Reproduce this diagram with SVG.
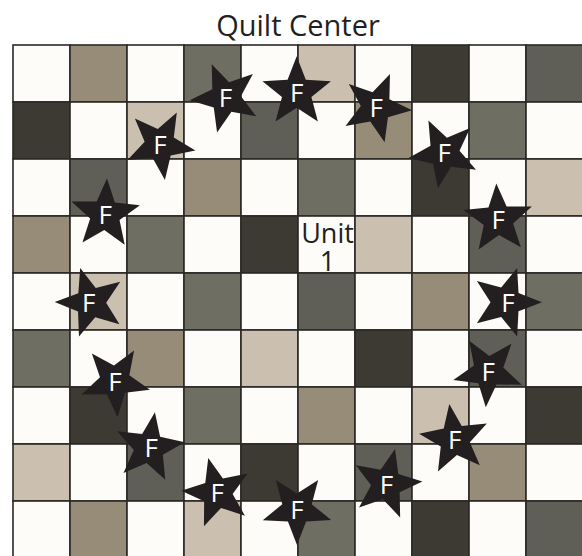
<svg xmlns="http://www.w3.org/2000/svg" xmlns:xlink="http://www.w3.org/1999/xlink" width="582" height="556" viewBox="0 0 582 556">
<defs>
<style>
.c{stroke:#2b2926;stroke-width:1.6}
.W{fill:#fdfcf8}.T{fill:#cbbfb0}.K{fill:#978c78}.G{fill:#6f6e62}.D{fill:#5f5e57}.B{fill:#3d3a33}
.star{fill:#231f20}
.f{font-family:"Open Sans","Liberation Sans",sans-serif;font-size:26px;fill:#ffffff;text-anchor:middle}
.lbl{font-family:"Open Sans","Liberation Sans",sans-serif;fill:#231f20;text-anchor:middle}
</style>
<path id="s" d="M0,-36 L9.1,-12.5 L34.24,-11.12 L14.7,4.8 L21.16,29.12 L0,15.5 L-21.16,29.12 L-14.7,4.8 L-34.24,-11.12 L-9.1,-12.5 Z"/>
</defs>
<rect width="582" height="556" fill="#ffffff"/>
<text class="lbl" x="298" y="36" font-size="29">Quilt Center</text>
<g id="grid">
<g transform="translate(13,45)">
<rect class="c W" x="0" y="0" width="57" height="57"/><rect class="c K" x="57" y="0" width="57" height="57"/><rect class="c W" x="114" y="0" width="57" height="57"/><rect class="c G" x="171" y="0" width="57" height="57"/><rect class="c W" x="228" y="0" width="57" height="57"/><rect class="c T" x="285" y="0" width="57" height="57"/><rect class="c W" x="342" y="0" width="57" height="57"/><rect class="c B" x="399" y="0" width="57" height="57"/><rect class="c W" x="456" y="0" width="57" height="57"/><rect class="c D" x="513" y="0" width="57" height="57"/>
<rect class="c B" x="0" y="57" width="57" height="57"/><rect class="c W" x="57" y="57" width="57" height="57"/><rect class="c T" x="114" y="57" width="57" height="57"/><rect class="c W" x="171" y="57" width="57" height="57"/><rect class="c D" x="228" y="57" width="57" height="57"/><rect class="c W" x="285" y="57" width="57" height="57"/><rect class="c K" x="342" y="57" width="57" height="57"/><rect class="c W" x="399" y="57" width="57" height="57"/><rect class="c G" x="456" y="57" width="57" height="57"/><rect class="c W" x="513" y="57" width="57" height="57"/>
<rect class="c W" x="0" y="114" width="57" height="57"/><rect class="c D" x="57" y="114" width="57" height="57"/><rect class="c W" x="114" y="114" width="57" height="57"/><rect class="c K" x="171" y="114" width="57" height="57"/><rect class="c W" x="228" y="114" width="57" height="57"/><rect class="c G" x="285" y="114" width="57" height="57"/><rect class="c W" x="342" y="114" width="57" height="57"/><rect class="c B" x="399" y="114" width="57" height="57"/><rect class="c W" x="456" y="114" width="57" height="57"/><rect class="c T" x="513" y="114" width="57" height="57"/>
<rect class="c K" x="0" y="171" width="57" height="57"/><rect class="c W" x="57" y="171" width="57" height="57"/><rect class="c G" x="114" y="171" width="57" height="57"/><rect class="c W" x="171" y="171" width="57" height="57"/><rect class="c B" x="228" y="171" width="57" height="57"/><rect class="c W" x="285" y="171" width="57" height="57"/><rect class="c T" x="342" y="171" width="57" height="57"/><rect class="c W" x="399" y="171" width="57" height="57"/><rect class="c D" x="456" y="171" width="57" height="57"/><rect class="c W" x="513" y="171" width="57" height="57"/>
<rect class="c W" x="0" y="228" width="57" height="57"/><rect class="c T" x="57" y="228" width="57" height="57"/><rect class="c W" x="114" y="228" width="57" height="57"/><rect class="c G" x="171" y="228" width="57" height="57"/><rect class="c W" x="228" y="228" width="57" height="57"/><rect class="c D" x="285" y="228" width="57" height="57"/><rect class="c W" x="342" y="228" width="57" height="57"/><rect class="c K" x="399" y="228" width="57" height="57"/><rect class="c W" x="456" y="228" width="57" height="57"/><rect class="c G" x="513" y="228" width="57" height="57"/>
<rect class="c G" x="0" y="285" width="57" height="57"/><rect class="c W" x="57" y="285" width="57" height="57"/><rect class="c K" x="114" y="285" width="57" height="57"/><rect class="c W" x="171" y="285" width="57" height="57"/><rect class="c T" x="228" y="285" width="57" height="57"/><rect class="c W" x="285" y="285" width="57" height="57"/><rect class="c B" x="342" y="285" width="57" height="57"/><rect class="c W" x="399" y="285" width="57" height="57"/><rect class="c D" x="456" y="285" width="57" height="57"/><rect class="c W" x="513" y="285" width="57" height="57"/>
<rect class="c W" x="0" y="342" width="57" height="57"/><rect class="c B" x="57" y="342" width="57" height="57"/><rect class="c W" x="114" y="342" width="57" height="57"/><rect class="c G" x="171" y="342" width="57" height="57"/><rect class="c W" x="228" y="342" width="57" height="57"/><rect class="c K" x="285" y="342" width="57" height="57"/><rect class="c W" x="342" y="342" width="57" height="57"/><rect class="c T" x="399" y="342" width="57" height="57"/><rect class="c W" x="456" y="342" width="57" height="57"/><rect class="c B" x="513" y="342" width="57" height="57"/>
<rect class="c T" x="0" y="399" width="57" height="57"/><rect class="c W" x="57" y="399" width="57" height="57"/><rect class="c D" x="114" y="399" width="57" height="57"/><rect class="c W" x="171" y="399" width="57" height="57"/><rect class="c B" x="228" y="399" width="57" height="57"/><rect class="c W" x="285" y="399" width="57" height="57"/><rect class="c D" x="342" y="399" width="57" height="57"/><rect class="c W" x="399" y="399" width="57" height="57"/><rect class="c K" x="456" y="399" width="57" height="57"/><rect class="c W" x="513" y="399" width="57" height="57"/>
<rect class="c W" x="0" y="456" width="57" height="57"/><rect class="c K" x="57" y="456" width="57" height="57"/><rect class="c W" x="114" y="456" width="57" height="57"/><rect class="c T" x="171" y="456" width="57" height="57"/><rect class="c W" x="228" y="456" width="57" height="57"/><rect class="c G" x="285" y="456" width="57" height="57"/><rect class="c W" x="342" y="456" width="57" height="57"/><rect class="c B" x="399" y="456" width="57" height="57"/><rect class="c W" x="456" y="456" width="57" height="57"/><rect class="c D" x="513" y="456" width="57" height="57"/>
</g>
</g>
<g id="unit1"><text class="lbl" font-size="27" x="327.5" y="243">Unit</text><text class="lbl" font-size="27" x="327.5" y="271">1</text></g>
<g id="connectors"></g>
<g id="star1" transform="translate(225.5,97.4)"><use xlink:href="#s" class="star" transform="rotate(-22.5)"/><text class="f" x="0" y="9.5">F</text></g>
<g id="star2" transform="translate(296.7,92.3)"><use xlink:href="#s" class="star"/><text class="f" x="0" y="9.5">F</text></g>
<g id="star3" transform="translate(376.2,107.3)"><use xlink:href="#s" class="star" transform="rotate(22.5)"/><text class="f" x="0" y="9.5">F</text></g>
<g id="star4" transform="translate(444.2,152.9)"><use xlink:href="#s" class="star" transform="rotate(-26)"/><text class="f" x="0" y="9.5">F</text></g>
<g id="star5" transform="translate(498.2,219.4)"><use xlink:href="#s" class="star" transform="rotate(-3)"/><text class="f" x="0" y="9.5">F</text></g>
<g id="star6" transform="translate(506,302.2)"><use xlink:href="#s" class="star" transform="rotate(18)"/><text class="f" x="2" y="9.5">F</text></g>
<g id="star7" transform="translate(488.3,371.3)"><use xlink:href="#s" class="star" transform="rotate(-32)"/><text class="f" x="0" y="9.5">F</text></g>
<g id="star8" transform="translate(454.6,439.6)"><use xlink:href="#s" class="star" transform="rotate(-8.5)"/><text class="f" x="0" y="9.5">F</text></g>
<g id="star9" transform="translate(386.5,484.1)"><use xlink:href="#s" class="star" transform="rotate(13.7)"/><text class="f" x="0" y="9.5">F</text></g>
<g id="star10" transform="translate(297,509)"><use xlink:href="#s" class="star" transform="rotate(-36)"/><text class="f" x="0" y="9.5">F</text></g>
<g id="star11" transform="translate(217.2,492.9)"><use xlink:href="#s" class="star" transform="rotate(-14.4)"/><text class="f" x="0" y="9.5">F</text></g>
<g id="star12" transform="translate(149.1,447.7)"><use xlink:href="#s" class="star" transform="rotate(9.3)"/><text class="f" x="2" y="9.5">F</text></g>
<g id="star13" transform="translate(115,381)"><use xlink:href="#s" class="star" transform="rotate(-40)"/><text class="f" x="0" y="9.5">F</text></g>
<g id="star14" transform="translate(90.7,302.5)"><use xlink:href="#s" class="star" transform="rotate(-17)"/><text class="f" x="-2" y="9.5">F</text></g>
<g id="star15" transform="translate(105.1,214.5)"><use xlink:href="#s" class="star" transform="rotate(3)"/><text class="f" x="0" y="9.5">F</text></g>
<g id="star16" transform="translate(159.9,144.3)"><use xlink:href="#s" class="star" transform="rotate(-44)"/><text class="f" x="0" y="9.5">F</text></g>
</svg>
